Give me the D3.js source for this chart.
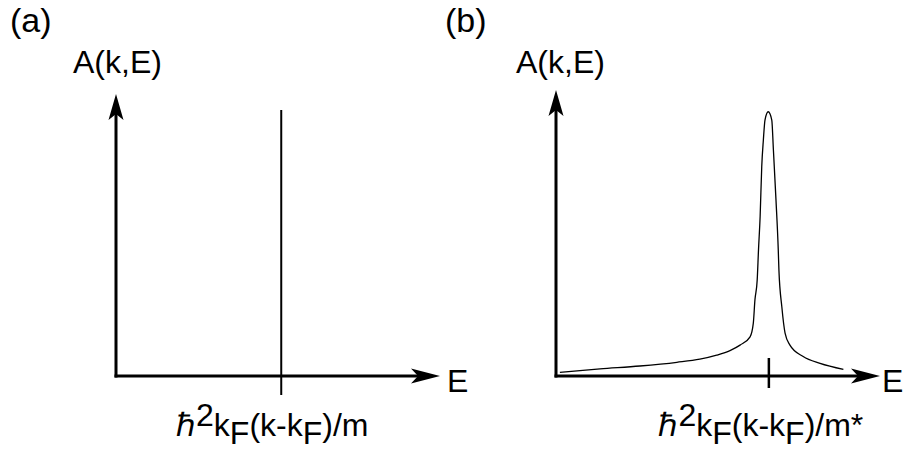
<!DOCTYPE html>
<html>
<head>
<meta charset="utf-8">
<script src="https://cdn.jsdelivr.net/npm/d3@7"></script>
<style>
  html, body { margin: 0; padding: 0; background: #fff; }
  svg { display: block; }
  text { font-family: "Liberation Sans", Arial, sans-serif; fill: #000; }
</style>
</head>
<body>
<svg id="fig" width="906" height="454"></svg>
<script>
// Panel (a): non-interacting electrons, a delta peak at the band energy
const deltaPos = [51];
const deltaHeight = [94.3];

// Panel (b): quasiparticle peak with an incoherent background
const specE = [1.2, 13.6, 25.9, 37.3, 44.4, 49.6, 53.7, 56.8, 59.9, 60.9, 61.4, 62.1, 62.5, 63.0, 63.5, 64.0, 64.5, 65.5, 66.6, 67.1, 67.9, 68.6, 68.8, 69.7, 70.7, 72.2, 76.3, 81.5, 88.7];
const specA = [1.3, 2.5, 3.5, 4.8, 5.9, 7.3, 8.9, 10.8, 13.7, 18.5, 26.6, 33.6, 44.1, 55.7, 73.2, 82.5, 89.5, 92.4, 89.5, 79.0, 61.5, 44.1, 37.1, 24.2, 15.0, 10.8, 6.8, 4.4, 2.3];
const peakPos = [65.7];

const panelLabels = ["(a)", "(b)"];
const yAxisLabel = "A(k,E)";
const xAxisLabel = "E";
const tickLabelMass = ["m", "m*"];

const svg = d3.select("#fig");

const panels = [
  { x0: 116, x1: 440, yTip: 94, tag: [10, 32], title: [73, 73], eGap: 7 },
  { x0: 556, x1: 880, yTip: 90, tag: [445, 32], title: [516, 73], eGap: 2 }
];
const yBase = 376;

function drawFrame(g, p, xs, ys) {
  const ox = xs(0), oy = ys(0);
  const tx = xs(100), ty = ys(100);
  // axis lines stop at the arrow notch
  g.append("line").attr("x1", ox).attr("y1", oy + 1.5).attr("x2", ox).attr("y2", ty + 20)
    .attr("stroke", "#000").attr("stroke-width", 3);
  g.append("line").attr("x1", ox - 1.5).attr("y1", oy).attr("x2", tx - 22).attr("y2", oy)
    .attr("stroke", "#000").attr("stroke-width", 3);
  // notched arrowheads
  g.append("path")
    .attr("d", `M${ox},${ty} L${ox - 7.5},${ty + 26} L${ox},${ty + 20} L${ox + 7.5},${ty + 26} Z`)
    .attr("fill", "#000");
  g.append("path")
    .attr("d", `M${tx},${oy} L${tx - 29},${oy - 7.5} L${tx - 22},${oy} L${tx - 29},${oy + 7.5} Z`)
    .attr("fill", "#000");
}

function energyLabel(g, cx, mass) {
  const t = g.append("text").attr("x", cx).attr("y", 436)
    .attr("text-anchor", "middle").style("font-size", "32px");
  t.append("tspan").text("ℏ");
  t.append("tspan").attr("dy", -10).text("2");
  t.append("tspan").attr("dy", 10).text("k");
  t.append("tspan").attr("dy", 8).text("F");
  t.append("tspan").attr("dy", -8).text("(k-k");
  t.append("tspan").attr("dy", 8).text("F");
  t.append("tspan").attr("dy", -8).text(")/" + mass);
}

panels.forEach((p, i) => {
  const g = svg.append("g");
  const xs = d3.scaleLinear().domain([0, 100]).range([p.x0, p.x1]);
  const ys = d3.scaleLinear().domain([0, 100]).range([yBase, p.yTip]);

  g.append("text").attr("x", p.tag[0]).attr("y", p.tag[1])
    .style("font-size", "34px").text(panelLabels[i]);
  g.append("text").attr("x", p.title[0]).attr("y", p.title[1])
    .style("font-size", "32px").text(yAxisLabel);
  g.append("text").attr("x", xs(100) + p.eGap).attr("y", 392)
    .style("font-size", "32px").text(xAxisLabel);

  if (i === 0) {
    const e = deltaPos[0];
    g.append("line").attr("x1", xs(e)).attr("x2", xs(e))
      .attr("y1", ys(deltaHeight[0])).attr("y2", yBase + 19)
      .attr("stroke", "#000").attr("stroke-width", 2);
    drawFrame(g, p, xs, ys);
    energyLabel(g, xs(e) - 9, tickLabelMass[0]);
  } else {
    const pts = specE.map((e, k) => [e, specA[k]]);
    const line = d3.line().x(d => xs(d[0])).y(d => ys(d[1])).curve(d3.curveMonotoneX);
    g.append("path").datum(pts).attr("d", line)
      .attr("fill", "none").attr("stroke", "#000").attr("stroke-width", 1.3);
    drawFrame(g, p, xs, ys);
    const e = peakPos[0];
    g.append("line").attr("x1", xs(e)).attr("x2", xs(e))
      .attr("y1", yBase - 18).attr("y2", yBase + 12)
      .attr("stroke", "#000").attr("stroke-width", 2.5);
    energyLabel(g, xs(e) - 8, tickLabelMass[1]);
  }
});
</script>
</body>
</html>
